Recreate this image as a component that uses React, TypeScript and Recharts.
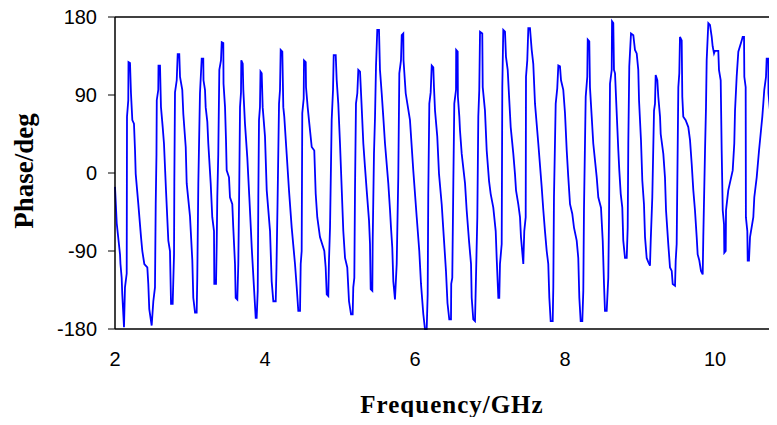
import React from 'react';
import { LineChart, Line, XAxis, YAxis, ReferenceLine, Label } from 'recharts';

// phase response, frequency in GHz, phase in degrees
const freqGHz = [
  2.000, 2.023, 2.067, 2.073, 2.089, 2.097, 2.120, 2.133, 2.156, 2.160,
  2.177, 2.180, 2.200, 2.213, 2.231, 2.253, 2.267, 2.276, 2.311, 2.347,
  2.364, 2.391, 2.431, 2.444, 2.457, 2.489, 2.511, 2.533, 2.543, 2.553,
  2.557, 2.577, 2.580, 2.600, 2.613, 2.636, 2.653, 2.680, 2.711, 2.733,
  2.747, 2.769, 2.787, 2.791, 2.800, 2.823, 2.836, 2.857, 2.867, 2.897,
  2.911, 2.943, 2.956, 3.000, 3.031, 3.044, 3.067, 3.089, 3.097, 3.111,
  3.133, 3.156, 3.177, 3.180, 3.200, 3.209, 3.231, 3.244, 3.276, 3.297,
  3.320, 3.324, 3.347, 3.356, 3.364, 3.377, 3.391, 3.413, 3.423, 3.444,
  3.447, 3.467, 3.480, 3.489, 3.520, 3.533, 3.564, 3.577, 3.600, 3.609,
  3.631, 3.644, 3.657, 3.667, 3.680, 3.684, 3.703, 3.711, 3.733, 3.764,
  3.791, 3.813, 3.823, 3.853, 3.876, 3.889, 3.903, 3.911, 3.920, 3.933,
  3.940, 3.956, 3.969, 4.000, 4.023, 4.067, 4.089, 4.111, 4.143, 4.153,
  4.167, 4.187, 4.200, 4.209, 4.231, 4.244, 4.257, 4.289, 4.320, 4.356,
  4.400, 4.423, 4.444, 4.467, 4.476, 4.489, 4.497, 4.516, 4.520, 4.543,
  4.547, 4.569, 4.591, 4.623, 4.657, 4.676, 4.697, 4.733, 4.791, 4.809,
  4.823, 4.844, 4.853, 4.867, 4.889, 4.907, 4.916, 4.943, 4.956, 4.977,
  5.000, 5.044, 5.067, 5.097, 5.120, 5.147, 5.169, 5.177, 5.191, 5.200,
  5.213, 5.231, 5.244, 5.267, 5.287, 5.311, 5.333, 5.356, 5.387, 5.400,
  5.409, 5.431, 5.436, 5.453, 5.467, 5.480, 5.497, 5.520, 5.533, 5.556,
  5.577, 5.600, 5.644, 5.667, 5.680, 5.697, 5.711, 5.733, 5.756, 5.777,
  5.791, 5.813, 5.823, 5.844, 5.847, 5.876, 5.933, 5.977, 6.023, 6.057,
  6.080, 6.111, 6.133, 6.156, 6.169, 6.177, 6.191, 6.209, 6.223, 6.244,
  6.253, 6.267, 6.297, 6.320, 6.356, 6.387, 6.413, 6.433, 6.457, 6.480,
  6.483, 6.497, 6.511, 6.524, 6.547, 6.549, 6.569, 6.572, 6.591, 6.600,
  6.623, 6.667, 6.689, 6.720, 6.747, 6.756, 6.777, 6.800, 6.813, 6.831,
  6.844, 6.857, 6.867, 6.897, 6.903, 6.933, 6.956, 6.987, 7.009, 7.044,
  7.076, 7.089, 7.111, 7.124, 7.133, 7.156, 7.164, 7.177, 7.200, 7.213,
  7.236, 7.257, 7.276, 7.311, 7.333, 7.347, 7.377, 7.400, 7.413, 7.444,
  7.457, 7.476, 7.480, 7.497, 7.511, 7.533, 7.556, 7.577, 7.600, 7.644,
  7.689, 7.711, 7.733, 7.756, 7.777, 7.791, 7.809, 7.836, 7.844, 7.853,
  7.876, 7.897, 7.911, 7.933, 7.947, 7.977, 8.000, 8.023, 8.044, 8.067,
  8.097, 8.120, 8.156, 8.177, 8.191, 8.209, 8.231, 8.244, 8.253, 8.276,
  8.297, 8.303, 8.324, 8.333, 8.356, 8.377, 8.423, 8.444, 8.480, 8.503,
  8.520, 8.533, 8.556, 8.577, 8.587, 8.600, 8.623, 8.627, 8.644, 8.653,
  8.667, 8.684, 8.711, 8.724, 8.743, 8.764, 8.777, 8.800, 8.823, 8.836,
  8.844, 8.857, 8.880, 8.911, 8.933, 8.956, 8.977, 8.987, 9.013, 9.031,
  9.053, 9.067, 9.089, 9.111, 9.133, 9.143, 9.164, 9.187, 9.200, 9.209,
  9.231, 9.244, 9.267, 9.276, 9.311, 9.333, 9.347, 9.377, 9.400, 9.423,
  9.436, 9.467, 9.476, 9.489, 9.511, 9.524, 9.533, 9.556, 9.564, 9.577,
  9.609, 9.644, 9.667, 9.689, 9.711, 9.733, 9.756, 9.769, 9.791, 9.813,
  9.836, 9.844, 9.867, 9.880, 9.889, 9.911, 9.933, 9.956, 9.969, 9.987,
  10.000, 10.044, 10.053, 10.076, 10.089, 10.103, 10.120, 10.124, 10.143, 10.147,
  10.177, 10.236, 10.257, 10.267, 10.289, 10.311, 10.356, 10.369, 10.387, 10.391,
  10.409, 10.412, 10.431, 10.436, 10.453, 10.467, 10.511, 10.524, 10.556, 10.587,
  10.613, 10.631, 10.644, 10.657, 10.680, 10.689, 10.711, 10.713, 10.733, 10.736,
  10.753, 10.756, 10.777, 10.800, 10.823,
];

const phaseDeg = [
  -16, -58, -94, -105, -121, -140, -178, -132, -116, 65,
  84, 128, 127, 92, 61, 57, 26, -1, -36, -74,
  -90, -105, -109, -128, -157, -176, -148, -132, -35, 22,
  84, 96, 124, 124, 76, 53, 34, -20, -78, -90,
  -151, -151, -94, -12, 93, 107, 137, 137, 111, 96,
  68, 30, -12, -50, -101, -144, -161, -161, -121, -12,
  92, 132, 132, 107, 96, 76, 59, 34, -12, -51,
  -67, -128, -128, -82, -28, 22, 119, 130, 151, 150,
  103, 76, 38, 3, -5, -28, -36, -63, -105, -144,
  -146, -105, -12, 76, 93, 130, 126, 96, 57, 18,
  -28, -67, -86, -132, -167, -167, -136, -28, 61, 76,
  117, 115, 76, 42, -20, -67, -125, -148, -148, -109,
  -36, 80, 96, 142, 140, 76, 65, 22, -20, -63,
  -105, -132, -159, -159, -105, -90, 69, 86, 130, 128,
  99, 76, 57, 30, 26, -24, -51, -74, -90, -109,
  -140, -142, -101, -63, 61, 96, 136, 136, 107, 80,
  34, -67, -98, -109, -148, -163, -163, -132, -121, -20,
  80, 92, 119, 117, 80, 34, 7, -20, -55, -82,
  -134, -136, -78, 22, 65, 123, 165, 165, 119, 92,
  65, 34, -12, -43, -63, -86, -125, -146, -105, -5,
  115, 130, 159, 161, 130, 92, 61, 3, -51, -90,
  -128, -163, -180, -180, -140, -24, 80, 93, 124, 122,
  99, 72, 42, -1, -36, -78, -113, -150, -169, -169,
  -128, -121, -12, 80, 96, 142, 140, 88, 65, 49,
  22, -12, -43, -78, -105, -144, -169, -171, -121, -51,
  65, 96, 163, 161, 99, 72, 26, -9, -24, -40,
  -67, -98, -144, -144, -105, -82, 99, 165, 163, 134,
  119, 84, 53, 22, -1, -20, -36, -51, -74, -105,
  -67, -51, 111, 130, 167, 167, 142, 126, 80, 34,
  -16, -43, -67, -90, -105, -144, -171, -171, -132, -28,
  80, 98, 124, 123, 107, 96, 69, 26, -5, -36,
  -47, -63, -78, -98, -144, -171, -171, -136, -43, 88,
  111, 154, 152, 99, 65, 34, -5, -28, -40, -78,
  -128, -159, -159, -121, -51, 103, 119, 175, 173, 119,
  115, 80, 26, 3, -24, -40, -78, -98, -98, -63,
  34, 123, 161, 159, 142, 138, 119, 84, 38, -9,
  -36, -74, -98, -103, -107, -78, -28, 72, 80, 113,
  107, 88, 65, 45, 22, -5, -43, -82, -109, -113,
  -128, -130, -101, -82, 99, 115, 157, 153, 88, 65,
  61, 53, 38, 11, -20, -43, -74, -94, -101, -113,
  -117, -74, 26, 76, 130, 173, 171, 157, 146, 138,
  141, 141, 119, 107, 26, -43, -59, -92, -90, -43,
  -20, 3, 34, 72, 111, 140, 153, 157, 157, 111,
  99, -51, -67, -101, -101, -74, -51, -28, -5, 26,
  49, 65, 80, 96, 111, 132, 132, 92, 72, -109,
  -128, -167, -165, -155, -136,
];

const xTicks = [2, 4, 6, 8, 10];
const yTicks = [-180, -90, 0, 90, 180];

const data = freqGHz.map((f, i) => ({ f, phase: phaseDeg[i] }));

const tickFont = { fontFamily: 'Arial, "Liberation Sans", sans-serif', fontSize: 20, fill: '#000' };
const titleFont = '"Times New Roman", "Liberation Serif", serif';

const xTitle = () => (
  <text x={444} y={413} textAnchor="middle" fontFamily={titleFont} fontWeight="bold" fontSize={25} letterSpacing={1} fill="#000">
    Frequency/GHz
  </text>
);

const yTitle = () => (
  <text x={25} y={171} transform="rotate(-90 25 171)" textAnchor="middle" fontFamily={titleFont} fontWeight="bold" fontSize={27} fill="#000">
    Phase/deg
  </text>
);

export default function App() {
  // negative top margin cancels the body margin so the top tick label has room
  return (
    <div style={{ width: 768, height: 417, marginTop: -8, overflow: 'hidden' }}>
      <LineChart width={810} height={417} data={data} margin={{ top: 17, right: 28, bottom: 28, left: 0 }}>
        <XAxis
          type="number"
          dataKey="f"
          domain={[2, 11]}
          ticks={xTicks}
          height={60}
          tickLine={false}
          tickSize={8}
          tickMargin={15}
          axisLine={{ stroke: '#000', strokeWidth: 1.5 }}
          tick={tickFont}
        >
          <Label content={xTitle} />
        </XAxis>
        <YAxis
          type="number"
          domain={[-180, 180]}
          ticks={yTicks}
          interval={0}
          width={107}
          tickSize={7}
          tickMargin={11}
          axisLine={{ stroke: '#000', strokeWidth: 1.5 }}
          tickLine={{ stroke: '#000' }}
          tick={tickFont}
        >
          <Label content={yTitle} />
        </YAxis>
        <ReferenceLine y={180} stroke="#000" strokeWidth={1.5} />
        <ReferenceLine x={11} stroke="#000" strokeWidth={1.5} />
        <Line type="linear" dataKey="phase" stroke="#0000FF" strokeWidth={1.8} dot={false} isAnimationActive={false} />
      </LineChart>
    </div>
  );
}
